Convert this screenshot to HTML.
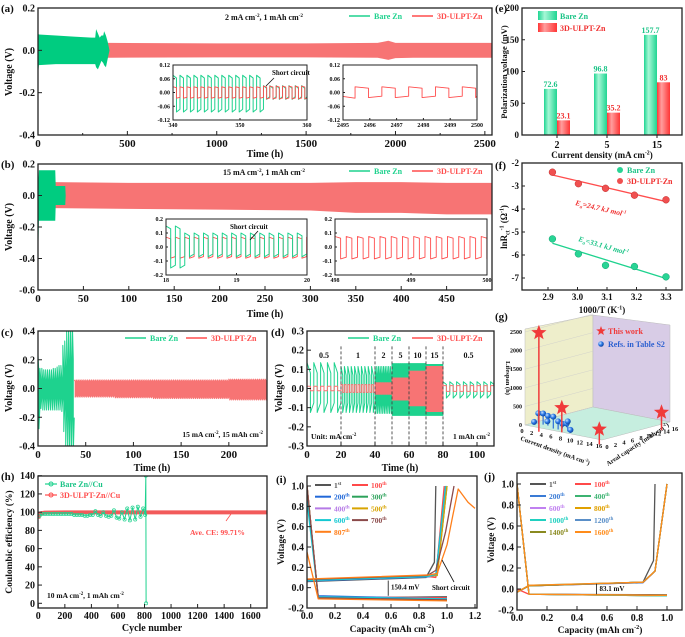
<!DOCTYPE html>
<html><head><meta charset="utf-8"><style>
html,body{margin:0;padding:0;background:#fff;}
svg{display:block;font-family:"Liberation Serif",serif;}
</style></head><body>
<svg id="fig" width="685" height="637" viewBox="0 0 685 637" xmlns="http://www.w3.org/2000/svg">
<defs>
<linearGradient id="gGrad" x1="0" x2="1" y1="0" y2="0"><stop offset="0" stop-color="#1fd592"/><stop offset="0.35" stop-color="#a6f7d6"/><stop offset="1" stop-color="#1fd592"/></linearGradient>
<linearGradient id="rGrad" x1="0" x2="1" y1="0" y2="0"><stop offset="0" stop-color="#ff3535"/><stop offset="0.35" stop-color="#ff9e9e"/><stop offset="1" stop-color="#ff3535"/></linearGradient>
<radialGradient id="ballGrad" cx="0.35" cy="0.35" r="0.7"><stop offset="0" stop-color="#cfe3ff"/><stop offset="0.5" stop-color="#2b7be6"/><stop offset="1" stop-color="#0c3e9a"/></radialGradient>
</defs>
</svg>
<script>
// ---------------- DATA ----------------
// (a)
const aXTicks=[0,500,1000,1500,2000,2500];
const aYTicks=[-0.4,-0.2,0.0,0.2];
const aYLabels=['-0.4','-0.2','0.0','0.2'];
const aBareT=[0,5,100,200,300,320,325,335,345,355,365,370,380,390,400];
const aBareHi=[0.08,0.075,0.07,0.065,0.06,0.06,0.1,0.08,0.06,0.07,0.07,0.09,0.07,0.04,0.0];
const aBareLo=[-0.12,-0.07,-0.065,-0.065,-0.065,-0.065,-0.08,-0.09,-0.07,-0.05,-0.06,-0.07,-0.08,-0.04,0.0];
const aRedT=[0,400,1000,1500,1900,1960,2000,2100,2540];
const aRedHi=[0.035,0.035,0.033,0.033,0.035,0.045,0.035,0.035,0.035];
const aRedLo=[-0.035,-0.035,-0.033,-0.033,-0.035,-0.045,-0.037,-0.035,-0.035];
// inset a1 segments
const a1SegStart=[340,353.5];
const a1SegEnd=[353.5,360];
const a1BareHi=[0.075,0.03];
const a1BareLo=[-0.085,-0.03];
const a1RedHi=[0.025,0.028];
const a1RedLo=[-0.025,-0.028];
const a1Period=[1.04,0.95];
// inset a2
const a2RedHi=[0.025];
const a2RedLo=[-0.022];
const a2Period=[1.0];
// (b)
const bXTicks=[0,50,100,150,200,250,300,350,400,450];
const bYTicks=[-0.6,-0.4,-0.2,0.0,0.2];
const bYLabels=['-0.6','-0.4','-0.2','0.0','0.2'];
const bBareT=[0,1,1.5,19,19.5,30,30.5];
const bBareHi=[0.05,0.16,0.16,0.16,0.06,0.06,0];
const bBareLo=[-0.45,-0.16,-0.16,-0.16,-0.06,-0.06,0];
const bRedT=[18,100,200,300,350,400,450,500];
const bRedHi=[0.085,0.08,0.08,0.08,0.085,0.085,0.08,0.08];
const bRedLo=[-0.08,-0.085,-0.09,-0.095,-0.11,-0.11,-0.12,-0.12];
const b1BareHi=[0.15,0.15,0.1,0.1,0.1,0.1,0.1,0.1,0.1,0.1,0.1,0.1,0.1,0.1,0.1];
const b1BareLo=[-0.15,-0.15,-0.07,-0.07,-0.07,-0.07,-0.07,-0.07,-0.07,-0.07,-0.07,-0.07,-0.07,-0.07,-0.07];
const b1RedHi=[0.06,0.07];
const b1RedLo=[-0.08,-0.08];
const b2RedHi=[0.075];
const b2RedLo=[-0.085];
const bPeriod=[0.133];
// (c)
const cXTicks=[0,50,100,150,200];
const cYTicks=[-0.4,-0.2,0.0,0.2,0.4];
const cYLabels=['-0.4','-0.2','0.0','0.2','0.4'];
const cBareHi=[0.23,0.14,0.14,0.13,0.13,0.13,0.13,0.13,0.14,0.14,0.15,0.16,0.16,0.3,0.33,0.4,0.42,0.45,0.45];
const cBareLo=[-0.28,-0.14,-0.15,-0.15,-0.15,-0.15,-0.15,-0.15,-0.15,-0.15,-0.15,-0.15,-0.16,-0.3,-0.4,-0.45,-0.45,-0.45,-0.45];
const cRedSegT=[38,80,120,160,200,240];
const cRedHi=[0.06,0.06,0.06,0.06,0.065,0.07];
const cRedLo=[-0.06,-0.065,-0.07,-0.07,-0.08,-0.1];
const cPeriod=[2];
// (d)
const dXTicks=[0,20,40,60,80,100];
const dYTicks=[-0.3,-0.2,-0.1,0.0,0.1,0.2,0.3];
const dYLabels=['-0.3','-0.2','-0.1','0.0','0.1','0.2','0.3'];
const dCur=[0.5,1,2,5,10,15,0.5];
const dCurLabels=['0.5','1','2','5','10','15','0.5'];
const dStart=[0,20,40,50,60,70,80];
const dEnd=[20,40,50,60,70,80,110];
const dBareHi=[0.135,0.115,0.115,0.13,0.13,0.125,0.035];
const dBareLo=[-0.125,-0.125,-0.13,-0.14,-0.14,-0.14,-0.05];
const dRedHi=[0.012,0.02,0.03,0.055,0.09,0.115,0.015];
const dRedLo=[-0.012,-0.02,-0.03,-0.06,-0.09,-0.12,-0.015];
const dBounds=[20,40,50,60,70,80];
// (e)
const eCats=['2','5','15'];
const eBare=[72.6,96.8,157.7];
const eRed=[23.1,35.2,83];
const eBareLabels=['72.6','96.8','157.7'];
const eRedLabels=['23.1','35.2','83'];
const eYTicks=[0,50,100,150,200];
// (f)
const fX=[2.915,3.003,3.095,3.193,3.3];
const fRed=[-2.4,-2.9,-3.1,-3.4,-3.6];
const fBare=[-5.3,-5.95,-6.45,-6.5,-6.95];
const fXTicks=[2.9,3.0,3.1,3.2,3.3];
const fXLabels=['2.9','3.0','3.1','3.2','3.3'];
const fYTicks=[-2,-3,-4,-5,-6,-7];
// (g)
const gWorkCd=[2,5,15,16];
const gWorkAc=[1,3,0.5,14];
const gWorkLife=[2500,500,250,320];
const gRefCd=[1,1,2,3,2,5,6,6,6,8,9];
const gRefAc=[1,2,2,2,3,1,1,2,3,1,0.5];
const gRefLife=[80,280,300,260,60,320,220,120,100,270,80];
const gLifeTicks=[0,500,1000,1500,2000,2500];
const gCdTicks=[0,2,4,6,8,10,12,14,16];
const gAcTicks=[0,2,4,6,8,10,12,14,16];
// (h)
const hXTicks=[0,200,400,600,800,1000,1200,1400,1600];
const hYTicks=[0,20,40,60,80,100,120,140];
const hBareCyc=[10,30,50,70,90,110,130,150,170,190,210,230,250,270,290,310,330,350,370,390,410,430,450,470,490,510,530,550,570,590,610,630,650,670,690,710,730,750,770,790,805,810,812];
const hBareCE=[96,98,98,98,98,98,98,98,98,98,98,98,98,97,97,97,97,96,96,97,97,101,97,96,100,96,95,96,102,94,93,100,92,104,91,105,92,106,95,104,97,140,0];
const hRedCyc=[0,5,10,50,200,400,800,1200,1600,1720];
const hRedCE=[93,97,98.5,99.5,99.7,99.7,99.7,99.8,99.7,99.7];
// (i)
const iNames=['1st','100th','200th','300th','400th','500th','600th','700th','807th'];
const iColors=['#555555','#ff4a4a','#2168d8','#2ca25a','#b57ae6','#d8a400','#14c8d2','#8b4a4a','#ff7f1a'];
const iStartV=[1.0,1.0,0.9,1.0,1.0,1.0,0.85,1.0,0.35];
const iPlate0=[-0.1,-0.09,-0.08,-0.1,-0.09,-0.1,-0.09,-0.1,-0.11];
const iPlate1=[-0.09,-0.1,-0.11,-0.12,-0.11,-0.12,-0.11,-0.12,-0.13];
const iCharge0=[0.06,0.07,0.065,0.07,0.07,0.075,0.07,0.08,0.085];
const iCharge1=[0.25,0.1,0.12,0.12,0.12,0.12,0.13,0.17,0.14];
const iKneeX=[0.91,0.92,0.92,0.93,0.93,0.93,0.92,0.92,0.93];
const iEndX=[0.92,0.98,0.99,1.0,0.99,1.0,0.99,1.05,1.08];
// (j)
const jNames=['1st','100th','200th','400th','600th','800th','1000th','1200th','1400th','1600th'];
const jColors=['#555555','#ff4a4a','#3a7bd5','#3cb371','#c080f0','#e0a000','#20d0c0','#5a8fc8','#8a8a20','#ff8c1a'];
const jPlate0=[-0.05,-0.05,-0.05,-0.05,-0.05,-0.05,-0.05,-0.05,-0.05,-0.05];
const jPlate1=[-0.055,-0.06,-0.06,-0.065,-0.065,-0.065,-0.065,-0.06,-0.06,-0.06];
const jCharge0=[0.03,0.03,0.03,0.03,0.03,0.03,0.035,0.03,0.03,0.035];
const jCharge1=[0.065,0.06,0.06,0.065,0.065,0.065,0.065,0.065,0.065,0.065];
const jKneeY=[0.27,0.17,0.17,0.17,0.17,0.17,0.17,0.17,0.17,0.17];
const jEndX=[0.92,1.0,1.0,1.0,1.0,1.0,1.0,1.0,1.0,1.0];
const jStartV=[1.0,0.0,1.0,1.0,1.0,1.0,1.0,1.0,1.0,1.0];

// ---------------- HELPERS ----------------
const NS='http://www.w3.org/2000/svg';
const svg=document.getElementById('fig');
const G='#1ed28e', R='#ff4d4d', GF='#00cc80', RF='#f77474';
function mk(tag,parent,name){
  const e=document.createElementNS(NS,tag);
  
  
  parent.appendChild(e);return e;}
function at(e,o){for(const k in o)e.setAttribute(k,o[k]);return e;}
function grp(name){return mk('g',svg,name);}
function lin(d0,d1,r0,r1){return v=>r0+(v-d0)*(r1-r0)/(d1-d0);}
function rich(p,name,x,y,str,o){
  o=o||{};const sz=o.size||10;
  const t=mk('text',p,name);
  at(t,{x:x,y:y,'font-size':sz,fill:o.fill||'#111','text-anchor':o.anchor||'start','font-weight':o.weight||'bold','font-style':o.style||'normal'});
  if(o.rot!=null) t.setAttribute('transform','rotate('+o.rot+' '+x+' '+y+')');
  const parts=str.split(/(\^[^\^]*\^|_[^_]*_)/);let pend=0;
  for(const s of parts){if(!s)continue;
    const ts=document.createElementNS(NS,'tspan');
    if(s[0]==='^'||s[0]==='_'){const up=s[0]==='^';const d=up?-sz*0.4:sz*0.25;
      ts.textContent=s.slice(1,-1);ts.setAttribute('font-size',sz*0.65);ts.setAttribute('dy',pend+d);pend=-d;}
    else{ts.textContent=s;if(pend)ts.setAttribute('dy',pend);pend=0;}
    t.appendChild(ts);}
  return t;}
function frame(p,name,b,w){const r=mk('rect',p,name);at(r,{x:b.x0,y:b.y0,width:b.x1-b.x0,height:b.y1-b.y0,fill:'none',stroke:'#222','stroke-width':w||1.3});}
function xAxis(p,name,b,sx,ticks,labels,size,len){ticks.forEach((v,i)=>{const x=sx(v);
  const l=mk('line',p,name+'-tick');at(l,{x1:x,x2:x,y1:b.y1,y2:b.y1-len,stroke:'#222','stroke-width':1});
  if(labels) rich(p,name+'-label',x,b.y1+size+1,labels[i],{size:size,anchor:'middle'});});}
function yAxis(p,name,b,sy,ticks,labels,size,len){ticks.forEach((v,i)=>{const y=sy(v);
  const l=mk('line',p,name+'-tick');at(l,{x1:b.x0,x2:b.x0+len,y1:y,y2:y,stroke:'#222','stroke-width':1});
  if(labels) rich(p,name+'-label',b.x0-3,y+size*0.35,labels[i],{size:size,anchor:'end'});});}
function pathD(pts,sx,sy){return pts.map((q,i)=>(i?'L':'M')+sx(q[0]).toFixed(2)+','+sy(q[1]).toFixed(2)).join('');}
function band(p,name,T,Hi,Lo,sx,sy,fill){const pts=T.map((t,i)=>[t,Hi[i]]).concat(T.map((t,i)=>[t,Lo[i]]).reverse());
  const e=mk('path',p,name);at(e,{d:pathD(pts,sx,sy)+'Z',fill:fill});return e;}
function line(p,name,pts,sx,sy,stroke,w,extra){const e=mk('path',p,name);at(e,{d:pathD(pts,sx,sy),fill:'none',stroke:stroke,'stroke-width':w||1,'stroke-linejoin':'round'});if(extra)at(e,extra);return e;}
function sqWave(t0,t1,per,hi,lo,slope,pts){for(let t=t0;t<t1-1e-9;t+=per){const tm=Math.min(t+per/2,t1),te=Math.min(t+per,t1);
  pts.push([t,hi],[tm,hi-slope]);if(tm<t1)pts.push([tm,lo],[te,lo+slope]);}return pts;}
function clip(p,id,b){const c=mk('clipPath',p,id);c.setAttribute('id',id);const r=mk('rect',c,id+'-rect');at(r,{x:b.x0,y:b.y0,width:b.x1-b.x0,height:b.y1-b.y0});return 'url(#'+id+')';}
function legendLine(p,name,x,y,color,label,size,w){const l=mk('line',p,name+'-line');at(l,{x1:x,x2:x+21,y1:y,y2:y,stroke:color,'stroke-width':w||1.6});
  rich(p,name+'-text',x+25,y+size*0.35,label,{size:size,fill:color});}
function tri(p,name,v,x,y,o){return rich(p,name,x,y,v,o);}

// ---------------- (a) ----------------
(function(){const g=grp('panel-a');const b={x0:38,x1:492,y0:8,y1:135};
  const sx=lin(0,2540,b.x0,b.x1),sy=lin(-0.4,0.2,b.y1,b.y0);
  band(g,'red-voltage-band',aRedT,aRedHi,aRedLo,sx,sy,RF);
  band(g,'bare-voltage-band',aBareT,aBareHi,aBareLo,sx,sy,GF);
  frame(g,'plot-frame',b);
  xAxis(g,'x-axis',b,sx,aXTicks,aXTicks.map(String),11,4);
  xAxis(g,'x-minor',b,sx,[250,750,1250,1750,2250],null,10,2);
  yAxis(g,'y-axis',b,sy,aYTicks,aYLabels,10,4);
  rich(g,'y-axis-title',12,72,'Voltage (V)',{size:10,rot:-90,anchor:'middle'});
  rich(g,'x-axis-title',265,157,'Time (h)',{size:10,anchor:'middle'});
  rich(g,'panel-label',1,12,'(a)',{size:11});
  rich(g,'condition-text',264,20,'2 mA cm^-2^, 1 mAh cm^-2^',{size:8,anchor:'middle'});
  legendLine(g,'legend-bare',349,16,G,'Bare Zn',8);
  legendLine(g,'legend-3d',412,16,R,'3D-ULPT-Zn',8);
  // inset 1
  const ib={x0:173,x1:307,y0:65,y1:120};const ix=lin(340,360,ib.x0,ib.x1),iy=lin(-0.12,0.12,ib.y1,ib.y0);
  const ig=mk('g',g,'inset-a1');const cp=clip(ig,'clipA1',ib);
  const bg=mk('rect',ig,'inset-bg');at(bg,{x:ib.x0,y:ib.y0,width:ib.x1-ib.x0,height:ib.y1-ib.y0,fill:'#fff'});
  let gp=[],rp=[];a1SegStart.forEach((s,i)=>{sqWave(s,a1SegEnd[i],a1Period[i],a1BareHi[i],a1BareLo[i],0.012,gp);sqWave(s,a1SegEnd[i],a1Period[i],a1RedHi[i],a1RedLo[i],0.004,rp);});
  line(ig,'bare-inset-line',gp,ix,iy,G,1,{'clip-path':cp});line(ig,'red-inset-line',rp,ix,iy,R,0.9,{'clip-path':cp});
  frame(ig,'inset-frame',ib,1);
  xAxis(ig,'inset-x',ib,ix,[340,350,360],['340','350','360'],6,2);
  yAxis(ig,'inset-y',ib,iy,[-0.12,-0.06,0,0.06,0.12],['-0.12','-0.06','0.00','0.06','0.12'],6,2);
  rich(ig,'short-circuit-label',272,75,'Short circuit',{size:7});
  const ar=mk('line',ig,'short-circuit-arrow');at(ar,{x1:274,y1:78,x2:266,y2:86,stroke:'#111','stroke-width':0.8});
  // inset 2
  const jb={x0:343,x1:477,y0:65,y1:120};const jx=lin(2495,2500,jb.x0,jb.x1);
  const jg=mk('g',g,'inset-a2');const bg2=mk('rect',jg,'inset-bg');at(bg2,{x:jb.x0,y:jb.y0,width:jb.x1-jb.x0,height:jb.y1-jb.y0,fill:'#fff'});
  const p2=[[2495,a2RedLo[0]+0.005],[2495.45,a2RedLo[0]-0.003]];sqWave(2495.45,2500,a2Period[0],a2RedHi[0],a2RedLo[0],0.006,p2);
  line(jg,'red-inset-line',p2,jx,iy,R,0.9);
  frame(jg,'inset-frame',jb,1);
  xAxis(jg,'inset-x',jb,jx,[2495,2496,2497,2498,2499,2500],['2495','2496','2497','2498','2499','2500'],6,2);
  yAxis(jg,'inset-y',jb,iy,[-0.12,-0.06,0,0.06,0.12],['-0.12','-0.06','0.00','0.06','0.12'],6,2);
})();

// ---------------- (b) ----------------
(function(){const g=grp('panel-b');const b={x0:38,x1:492,y0:164,y1:290};
  const sx=lin(0,500,b.x0,b.x1),sy=lin(-0.6,0.2,b.y1,b.y0);
  band(g,'red-voltage-band',bRedT,bRedHi,bRedLo,sx,sy,RF);
  band(g,'bare-voltage-band',bBareT,bBareHi,bBareLo,sx,sy,GF);
  frame(g,'plot-frame',b);
  xAxis(g,'x-axis',b,sx,bXTicks,bXTicks.map(String),11,4);
  yAxis(g,'y-axis',b,sy,bYTicks,bYLabels,10,4);
  rich(g,'y-axis-title',12,227,'Voltage (V)',{size:10,rot:-90,anchor:'middle'});
  rich(g,'x-axis-title',265,317,'Time (h)',{size:10,anchor:'middle'});
  rich(g,'panel-label',1,168,'(b)',{size:11});
  rich(g,'condition-text',264,175,'15 mA cm^-2^, 1 mAh cm^-2^',{size:8,anchor:'middle'});
  legendLine(g,'legend-bare',349,171,G,'Bare Zn',8);
  legendLine(g,'legend-3d',412,171,R,'3D-ULPT-Zn',8);
  const ib={x0:166,x1:307,y0:219,y1:275};const ix=lin(18,20,ib.x0,ib.x1),iy=lin(-0.2,0.2,ib.y1,ib.y0);
  const ig=mk('g',g,'inset-b1');const bg=mk('rect',ig,'inset-bg');at(bg,{x:ib.x0,y:ib.y0,width:ib.x1-ib.x0,height:ib.y1-ib.y0,fill:'#fff'});
  const cp=clip(ig,'clipB1',ib);
  let gp=[],rp=[];b1BareHi.forEach((h,i)=>{sqWave(18+i*bPeriod[0],18+(i+1)*bPeriod[0],bPeriod[0],h,b1BareLo[i],0.02,gp);});
  sqWave(18,20,bPeriod[0],b1RedHi[1],b1RedLo[1],0.012,rp);
  line(ig,'red-inset-line',rp,ix,iy,R,0.9,{'clip-path':cp});line(ig,'bare-inset-line',gp,ix,iy,G,1,{'clip-path':cp});
  frame(ig,'inset-frame',ib,1);
  xAxis(ig,'inset-x',ib,ix,[18,19,20],['18','19','20'],6,2);
  yAxis(ig,'inset-y',ib,iy,[-0.2,-0.1,0,0.1,0.2],['-0.2','-0.1','0.0','0.1','0.2'],6,2);
  rich(ig,'short-circuit-label',230,229,'Short circuit',{size:7});
  const ar=mk('line',ig,'short-circuit-arrow');at(ar,{x1:258,y1:231,x2:250,y2:240,stroke:'#111','stroke-width':0.8});
  const jb={x0:335,x1:487,y0:219,y1:275};const jx=lin(498,500,jb.x0,jb.x1);
  const jg=mk('g',g,'inset-b2');const bg2=mk('rect',jg,'inset-bg');at(bg2,{x:jb.x0,y:jb.y0,width:jb.x1-jb.x0,height:jb.y1-jb.y0,fill:'#fff'});
  const p2=sqWave(498,500,0.148,b2RedHi[0],b2RedLo[0],0.012,[]);
  line(jg,'red-inset-line',p2,jx,iy,R,0.9);
  frame(jg,'inset-frame',jb,1);
  xAxis(jg,'inset-x',jb,jx,[498,499,500],['498','499','500'],6,2);
  yAxis(jg,'inset-y',jb,iy,[-0.2,-0.1,0,0.1,0.2],['-0.2','-0.1','0.0','0.1','0.2'],6,2);
})();

// ---------------- (c) ----------------
(function(){const g=grp('panel-c');const b={x0:38,x1:267,y0:331,y1:446};
  const sx=lin(0,240,b.x0,b.x1),sy=lin(-0.4,0.4,b.y1,b.y0);const cp=clip(g,'clipC',b);
  const P=cPeriod[0];let rp=[];
  cRedSegT.forEach((t,i)=>{if(i===cRedSegT.length-1)return;sqWave(t,cRedSegT[i+1],P,cRedHi[i],cRedLo[i],0.01,rp);});
  line(g,'red-voltage-line',rp,sx,sy,RF,1.1,{'clip-path':cp});
  let gp=[];cBareHi.forEach((h,i)=>{const t=i*P;gp.push([t,h],[t+P/2,h*0.45],[t+P/2,cBareLo[i]],[t+P,cBareLo[i]*0.45]);});
  line(g,'bare-voltage-line',gp,sx,sy,G,1,{'clip-path':cp});
  frame(g,'plot-frame',b);
  xAxis(g,'x-axis',b,sx,cXTicks,cXTicks.map(String),11,4);
  yAxis(g,'y-axis',b,sy,cYTicks,cYLabels,10,4);
  rich(g,'y-axis-title',12,388,'Voltage (V)',{size:10,rot:-90,anchor:'middle'});
  rich(g,'x-axis-title',152,471,'Time (h)',{size:10,anchor:'middle'});
  rich(g,'panel-label',1,336,'(c)',{size:11});
  rich(g,'condition-text',263,437,'15 mA cm^-2^,  15 mAh cm^-2^',{size:7.5,anchor:'end'});
  legendLine(g,'legend-bare',125,338,G,'Bare Zn',8);
  legendLine(g,'legend-3d',186,338,R,'3D-ULPT-Zn',8);
})();

// ---------------- (d) ----------------
(function(){const g=grp('panel-d');const b={x0:307,x1:494,y0:331,y1:446};
  const sx=lin(0,110,b.x0,b.x1),sy=lin(-0.3,0.3,b.y1,b.y0);const cp=clip(g,'clipD',b);
  let gp=[],rp=[];
  dCur.forEach((c,i)=>{const P=2/c;
    for(let t=dStart[i];t<dEnd[i]-1e-9;t+=P){const h=dBareHi[i],l=dBareLo[i];gp.push([t,l*0.5],[t+0.0001,h],[t+P/2,h*0.6],[t+P/2,l],[Math.min(t+P,dEnd[i]),l*0.6]);}
    sqWave(dStart[i],dEnd[i],P,dRedHi[i],dRedLo[i],0,rp);});
  line(g,'bare-voltage-line',gp,sx,sy,G,1,{'clip-path':cp});
  line(g,'red-voltage-line',rp,sx,sy,RF,1,{'clip-path':cp});
  dBounds.forEach(t=>{const l=mk('line',g,'rate-divider');at(l,{x1:sx(t),x2:sx(t),y1:sy(0.22),y2:b.y1,stroke:'#444','stroke-dasharray':'3,2','stroke-width':0.9});});
  dCurLabels.forEach((s,i)=>rich(g,'rate-label',sx((dStart[i]+dEnd[i])/2),sy(0.16),s,{size:8,anchor:'middle'}));
  frame(g,'plot-frame',b);
  xAxis(g,'x-axis',b,sx,dXTicks,dXTicks.map(String),11,4);
  yAxis(g,'y-axis',b,sy,dYTicks,dYLabels,10,4);
  rich(g,'y-axis-title',282,388,'Voltage (V)',{size:10,rot:-90,anchor:'middle'});
  rich(g,'x-axis-title',400,471,'Time (h)',{size:10,anchor:'middle'});
  rich(g,'panel-label',271,336,'(d)',{size:11});
  rich(g,'unit-text',311,439,'Unit: mA cm^-2^',{size:7.5});
  rich(g,'capacity-text',490,439,'1 mAh cm^-2^',{size:7.5,anchor:'end'});
  legendLine(g,'legend-bare',348,338,G,'Bare Zn',8);
  legendLine(g,'legend-3d',412,338,R,'3D-ULPT-Zn',8);
})();

// ---------------- (e) ----------------
(function(){const g=grp('panel-e');const b={x0:522,x1:682,y0:8,y1:135};
  const sy=lin(0,200,b.y1,b.y0);const cx=i=>b.x0+(b.x1-b.x0)*(i+0.7)/3.2;const bw=13;
  eCats.forEach((c,i)=>{
    const gb=mk('rect',g,'bar-bare-'+c);at(gb,{x:cx(i)-bw,y:sy(eBare[i]),width:bw,height:sy(0)-sy(eBare[i]),fill:'url(#gGrad)'});
    const rb=mk('rect',g,'bar-3d-'+c);at(rb,{x:cx(i),y:sy(eRed[i]),width:bw,height:sy(0)-sy(eRed[i]),fill:'url(#rGrad)'});
    rich(g,'value-bare',cx(i)-bw/2,sy(eBare[i])-2,eBareLabels[i],{size:8,anchor:'middle',fill:'#1bc487'});
    rich(g,'value-3d',cx(i)+bw/2,sy(eRed[i])-2,eRedLabels[i],{size:8,anchor:'middle',fill:'#f03030'});
    const t=mk('line',g,'x-tick');at(t,{x1:cx(i),x2:cx(i),y1:b.y1,y2:b.y1+3,stroke:'#222'});
    rich(g,'x-tick-label',cx(i),b.y1+13,c,{size:10,anchor:'middle'});});
  frame(g,'plot-frame',b);
  yAxis(g,'y-axis',b,sy,eYTicks,eYTicks.map(String),9,3);
  rich(g,'y-axis-title',507,72,'Polarization voltage (mV)',{size:8.5,rot:-90,anchor:'middle'});
  rich(g,'x-axis-title',602,158,'Current density (mA cm^-2^)',{size:9,anchor:'middle'});
  rich(g,'panel-label',495,12,'(e)',{size:11});
  const lg=mk('rect',g,'legend-bare-swatch');at(lg,{x:538,y:11,width:19,height:9,fill:'url(#gGrad)'});
  rich(g,'legend-bare-text',560,19,'Bare Zn',{size:8,fill:'#1bc487'});
  const lr=mk('rect',g,'legend-3d-swatch');at(lr,{x:538,y:23,width:19,height:9,fill:'url(#rGrad)'});
  rich(g,'legend-3d-text',560,31,'3D-ULPT-Zn',{size:8,fill:'#f03030'});
})();

// ---------------- (f) ----------------
(function(){const g=grp('panel-f');const b={x0:522,x1:682,y0:163,y1:290};
  const sx=lin(2.9,3.3,548,666),sy=lin(-2,-7,163,278);
  function fit(X,Y){const n=X.length;const mx=X.reduce((a,c)=>a+c,0)/n,my=Y.reduce((a,c)=>a+c,0)/n;let sxy=0,sxx=0;X.forEach((x,i)=>{sxy+=(x-mx)*(Y[i]-my);sxx+=(x-mx)*(x-mx);});const m=sxy/sxx;return x=>my+m*(x-mx);}
  const fr=fit(fX,fRed),fb=fit(fX,fBare);
  line(g,'fit-line-3d',[[fX[0],fr(fX[0])],[fX[4],fr(fX[4])]],sx,sy,R,1.3);
  line(g,'fit-line-bare',[[fX[0],fb(fX[0])],[fX[4],fb(fX[4])]],sx,sy,G,1.3);
  fX.forEach((x,i)=>{const c=mk('circle',g,'point-3d');at(c,{cx:sx(x),cy:sy(fRed[i]),r:3.4,fill:'#f05050',stroke:'#c03030','stroke-width':0.5});
    const d=mk('circle',g,'point-bare');at(d,{cx:sx(x),cy:sy(fBare[i]),r:3.4,fill:'#28d494',stroke:'#10a070','stroke-width':0.5});});
  frame(g,'plot-frame',b);
  xAxis(g,'x-axis',b,sx,fXTicks,fXLabels,9,3);
  yAxis(g,'y-axis',b,sy,fYTicks,fYTicks.map(String),9,3);
  rich(g,'y-axis-title',507,227,'lnR_ct_^-1^ (Ω^-1^)',{size:9,rot:-90,anchor:'middle'});
  rich(g,'x-axis-title',602,313,'1000/T (K^-1^)',{size:9,anchor:'middle'});
  rich(g,'panel-label',495,169,'(f)',{size:11});
  const a=mk('circle',g,'legend-bare-marker');at(a,{cx:620,cy:170,r:3,fill:'#28d494'});
  rich(g,'legend-bare-text',627,173,'Bare Zn',{size:8,fill:'#1bc487'});
  const c2=mk('circle',g,'legend-3d-marker');at(c2,{cx:620,cy:181,r:3,fill:'#f05050'});
  rich(g,'legend-3d-text',627,184,'3D-ULPT-Zn',{size:8,fill:'#f03030'});
  rich(g,'ea-3d-text',575,205,'E_a_=24.7 kJ mol^-1^',{size:7.5,fill:'#f03030',style:'italic',rot:13});
  rich(g,'ea-bare-text',578,241,'E_a_=33.1 kJ mol^-1^',{size:7.5,fill:'#1bc487',style:'italic',rot:16});
})();

// ---------------- (g) ----------------
(function(){const g=grp('panel-g');
  const L=[525,425],B=[593,407],F=[602,440],Rr=[670,422],H=0.0372;
  const P=(cd,ac,life)=>[L[0]+cd/16*(F[0]-L[0])+ac/16*(B[0]-L[0]),L[1]+cd/16*(F[1]-L[1])+ac/16*(B[1]-L[1])-life*H];
  const poly=(name,pts,fill)=>{const e=mk('polygon',g,name);at(e,{points:pts.map(q=>q.join(',')).join(' '),fill:fill,stroke:'#bbb','stroke-width':0.5});};
  poly('left-wall',[[525,329],[593,315],B,L],'#eeeecb');
  poly('right-wall',[[593,315],[670,325],Rr,B],'#d8cce6');
  poly('floor',[L,B,Rr,F],'#c6eedf');
  gLifeTicks.forEach(v=>{const y0=L[1]-v*H;const l=mk('line',g,'grid-line');at(l,{x1:525,y1:y0,x2:593,y2:y0-18+0.0,stroke:'#ccc','stroke-width':0.4});
    rich(g,'lifespan-tick-label',522,y0+2,String(v),{size:6,anchor:'end'});});
  rich(g,'lifespan-axis-title',506,378,'Lifespan (h)',{size:6.5,rot:90,anchor:'middle'});
  gCdTicks.forEach(v=>{const q=P(v,0,0);rich(g,'current-density-tick',q[0]-3,q[1]+8,String(v),{size:6.5,anchor:'middle'});});
  gAcTicks.forEach(v=>{const q=P(16,v,0);rich(g,'areal-capacity-tick',q[0]+5,q[1]+9,String(v),{size:6.5,anchor:'middle'});});
  rich(g,'current-density-title',520,440,'Current density (mA cm^-2^)',{size:6.5,rot:20});
  rich(g,'areal-capacity-title',608,466,'Areal capacity (mAh cm^-2^)',{size:6.5,rot:-33});
  rich(g,'panel-label',495,320,'(g)',{size:11});
  gRefCd.forEach((c,i)=>{const base=P(c,gRefAc[i],0),top=P(c,gRefAc[i],gRefLife[i]);
    const s=mk('line',g,'ref-stem');at(s,{x1:base[0],y1:base[1],x2:top[0],y2:top[1],stroke:'#2b6fd8','stroke-width':1.2});
    const ball=mk('circle',g,'ref-point');at(ball,{cx:top[0],cy:top[1],r:3,fill:'url(#ballGrad)'});});
  function star(cx,cy,r,name){const pts=[];for(let k=0;k<10;k++){const a=-Math.PI/2+k*Math.PI/5,rr=k%2?r*0.42:r;pts.push([cx+rr*Math.cos(a),cy+rr*Math.sin(a)]);}
    const e=mk('polygon',g,name);at(e,{points:pts.map(q=>q.map(v=>v.toFixed(1)).join(',')).join(' '),fill:'#f03a3a'});}
  gWorkCd.forEach((c,i)=>{const base=P(c,gWorkAc[i],0),top=P(c,gWorkAc[i],gWorkLife[i]);
    const s=mk('line',g,'this-work-stem');at(s,{x1:base[0],y1:base[1]+6,x2:top[0],y2:top[1],stroke:'#f03a3a','stroke-width':1.5});
    star(top[0],top[1],8,'this-work-star');});
  star(601,331,5,'legend-star');
  rich(g,'legend-this-work',608,334,'This work',{size:8,fill:'#f03a3a'});
  const lb=mk('circle',g,'legend-ref-ball');at(lb,{cx:601,cy:344,r:2.8,fill:'url(#ballGrad)'});
  rich(g,'legend-refs',608,347,'Refs. in Table S2',{size:8,fill:'#2b5fd0'});
})();

// ---------------- (h) ----------------
(function(){const g=grp('panel-h');const b={x0:38,x1:267,y0:476,y1:608};
  const sx=lin(0,1600,38.3,250.7),sy=lin(0,140,603.3,475.7);const cp=clip(g,'clipH',b);
  const rp=hRedCyc.map((c,i)=>[c,hRedCE[i]]);
  line(g,'3d-ce-line',rp,sx,sy,'#f25b5b',4,{'clip-path':cp});
  const gp=hBareCyc.map((c,i)=>[c,hBareCE[i]]);
  line(g,'bare-ce-line',gp,sx,sy,G,1,{'clip-path':cp});
  gp.forEach(q=>{const c=mk('circle',g,'bare-ce-point');at(c,{cx:sx(q[0]),cy:sy(q[1]),r:1.6,fill:'none',stroke:G,'stroke-width':0.7,'clip-path':cp});});
  frame(g,'plot-frame',b);
  xAxis(g,'x-axis',b,sx,hXTicks,hXTicks.map(String),10,4);
  yAxis(g,'y-axis',b,sy,hYTicks,hYTicks.map(String),10,4);
  rich(g,'y-axis-title',12,542,'Coulombic efficiency (%)',{size:9.5,rot:-90,anchor:'middle'});
  rich(g,'x-axis-title',152,631,'Cycle number',{size:10,anchor:'middle'});
  rich(g,'panel-label',1,480,'(h)',{size:11});
  const l1=mk('line',g,'legend-bare-line');at(l1,{x1:45,x2:57,y1:484,y2:484,stroke:G,'stroke-width':1.2});
  const c1=mk('circle',g,'legend-bare-marker');at(c1,{cx:51,cy:484,r:2,fill:'none',stroke:G});
  rich(g,'legend-bare-text',60,487,'Bare Zn//Cu',{size:8,fill:'#1bc487'});
  const l2=mk('line',g,'legend-3d-line');at(l2,{x1:45,x2:57,y1:495,y2:495,stroke:R,'stroke-width':1.2});
  const c2=mk('circle',g,'legend-3d-marker');at(c2,{cx:51,cy:495,r:2,fill:'none',stroke:R});
  rich(g,'legend-3d-text',60,498,'3D-ULPT-Zn//Cu',{size:8,fill:R});
  const pa=mk('line',g,'ce-pointer');at(pa,{x1:226,y1:521,x2:231,y2:514,stroke:R,'stroke-width':0.8});
  rich(g,'average-ce-text',190,535,'Ave. CE: 99.71%',{size:7.5,fill:R});
  rich(g,'condition-text',47,598,'10 mA cm^-2^, 1 mAh cm^-2^',{size:7.5});
})();

// ---------------- (i) ----------------
(function(){const g=grp('panel-i');const b={x0:307,x1:477,y0:476,y1:608};
  const sx=lin(0,1,307,447),sy=lin(-0.2,1.0,608,486);const cp=clip(g,'clipI',b);
  iNames.forEach((n,i)=>{const col=iColors[i];
    const dis=[[0,iStartV[i]],[0.08,iPlate0[i]],[1.0,iPlate1[i]]];
    line(g,'plating-curve-'+n,dis,sx,sy,col,1.3,{'clip-path':cp});
    let ch=[[0,iCharge0[i]],[iKneeX[i]-0.06,iCharge0[i]+0.04],[iKneeX[i],iCharge1[i]]];
    if(n==='807th') ch=ch.concat([[1.0,0.42],[1.04,0.7],[iEndX[i],0.97],[1.15,0.84],[1.2,0.78]]);
    else if(n==='700th') ch=ch.concat([[0.99,0.55],[iEndX[i],1.0]]);
    else ch.push([iEndX[i],1.0]);
    line(g,'stripping-curve-'+n,ch,sx,sy,col,1.3,{'clip-path':cp});});
  frame(g,'plot-frame',b);
  const xt=[0,0.2,0.4,0.6,0.8,1.0,1.2];xAxis(g,'x-axis',b,sx,xt,xt.map(v=>v.toFixed(1)),10,4);
  const yt=[-0.2,0,0.2,0.4,0.6,0.8,1.0];yAxis(g,'y-axis',b,sy,yt,yt.map(v=>v.toFixed(1)),10,4);
  rich(g,'y-axis-title',284,542,'Voltage (V)',{size:9.5,rot:-90,anchor:'middle'});
  rich(g,'x-axis-title',392,632,'Capacity (mAh cm^-2^)',{size:9.5,anchor:'middle'});
  rich(g,'panel-label',276,483,'(i)',{size:11});
  iNames.forEach((n,i)=>{const col=i%2?352:315,row=Math.floor(i/2);const y=485+row*11.7;
    const l=mk('line',g,'legend-line-'+n);at(l,{x1:col,x2:col+16,y1:y,y2:y,stroke:iColors[i],'stroke-width':2});
    const m=n.match(/^(\d+)(\w+)$/);rich(g,'legend-text-'+n,col+19,y+3,m[1]+'^'+m[2]+'^',{size:7.5,fill:iColors[i]});});
  const a=mk('line',g,'polarization-arrow');at(a,{x1:sx(0.58),x2:sx(0.58),y1:sy(-0.08),y2:sy(0.07),stroke:'#111','stroke-width':0.8});
  rich(g,'polarization-text',sx(0.6),sy(-0.02),'150.4 mV',{size:7});
  rich(g,'short-circuit-text',432,590,'Short circuit',{size:7});
  const s=mk('line',g,'short-circuit-arrow');at(s,{x1:454,y1:582,x2:442,y2:560,stroke:'#111','stroke-width':0.8});
})();

// ---------------- (j) ----------------
(function(){const g=grp('panel-j');const b={x0:517,x1:682,y0:473,y1:610};
  const sx=lin(0,1,517,667),sy=lin(-0.2,1.0,610,484);const cp=clip(g,'clipJ',b);
  jNames.forEach((n,i)=>{const col=jColors[i];
    const dis=[[0,jStartV[i]],[0.08,jPlate0[i]],[1.0,jPlate1[i]]];
    line(g,'plating-curve-'+n,dis,sx,sy,col,1.3,{'clip-path':cp});
    const ch=[[0,-0.03],[0.08,jCharge0[i]],[0.84,jCharge1[i]],[jEndX[i]-0.08+(i?0:0.07),jKneeY[i]],[jEndX[i],1.0]];
    line(g,'stripping-curve-'+n,ch,sx,sy,col,1.3,{'clip-path':cp});});
  frame(g,'plot-frame',b);
  const xt=[0,0.2,0.4,0.6,0.8,1.0];xAxis(g,'x-axis',b,sx,xt,xt.map(v=>v.toFixed(1)),10,4);
  const yt=[-0.2,0,0.2,0.4,0.6,0.8,1.0];yAxis(g,'y-axis',b,sy,yt,yt.map(v=>v.toFixed(1)),10,4);
  rich(g,'y-axis-title',494,540,'Voltage (V)',{size:9.5,rot:-90,anchor:'middle'});
  rich(g,'x-axis-title',600,633,'Capacity (mAh cm^-2^)',{size:9.5,anchor:'middle'});
  rich(g,'panel-label',484,480,'(j)',{size:11});
  jNames.forEach((n,i)=>{const col=i%2?575:530,row=Math.floor(i/2);const y=484+row*12;
    const l=mk('line',g,'legend-line-'+n);at(l,{x1:col,x2:col+16,y1:y,y2:y,stroke:jColors[i],'stroke-width':2});
    const m=n.match(/^(\d+)(\w+)$/);rich(g,'legend-text-'+n,col+19,y+3,m[1]+'^'+m[2]+'^',{size:7.5,fill:jColors[i]});});
  const a=mk('line',g,'polarization-arrow');at(a,{x1:sx(0.53),x2:sx(0.53),y1:sy(-0.05),y2:sy(0.05),stroke:'#111','stroke-width':0.8});
  rich(g,'polarization-text',sx(0.55),sy(0.0)+2,'83.1 mV',{size:7});
})();
</script>
</body></html>
